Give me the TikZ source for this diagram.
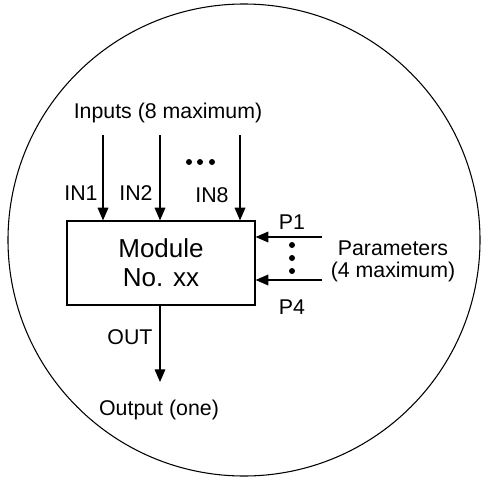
\documentclass[tikz,border=0pt]{standalone}
\usepackage{fontspec}
\setmainfont{Liberation Sans}
\usetikzlibrary{arrows.meta}
\begin{document}
\begin{tikzpicture}[x=0.75pt,y=-0.75pt,
  lbl/.style={inner sep=0pt,font=\fontsize{16}{19}\selectfont},
  big/.style={inner sep=0pt,font=\fontsize{19.5}{23}\selectfont},
  sig/.style={line width=0.9pt,-{Triangle[length=9.5pt,width=8pt]}},
  dot/.style={circle,fill=black,inner sep=0pt,minimum size=4.5pt}]
\useasboundingbox (0,0) rectangle (488,481);
% enclosing circle
\draw[line width=0.8pt] (244,240) circle [radius=236];
% module box
\node[draw,line width=0.9pt,minimum width=188*0.75pt,minimum height=84*0.75pt,inner sep=0pt] (mod) at (161,263) {};
\node[big] (t1) at (161,248) {Module};
\node[big] (t2) at (161,278) {No. xx};
% inputs
\node[lbl] (inp) at (168,113) {Inputs (8 maximum)};
\coordinate (i1) at (103,135);
\coordinate (i2) at (160,135);
\coordinate (i8) at (240,135);
\draw[sig] (i1) -- (i1 |- mod.north);
\draw[sig] (i2) -- (i2 |- mod.north);
\draw[sig] (i8) -- (i8 |- mod.north);
\node[lbl] (n1) at (81,193) {IN1};
\node[lbl] (n2) at (136,193) {IN2};
\node[lbl] (n8) at (212,195) {IN8};
\node[dot] (d1) at (189,162) {};
\node[dot] (d2) at (200,162) {};
\node[dot] (d3) at (212,162) {};
% parameters
\coordinate (p1) at (322,237);
\coordinate (p4) at (322,280);
\draw[sig] (p1) -- (p1 -| mod.east);
\draw[sig] (p4) -- (p4 -| mod.east);
\node[lbl] (l1) at (292,222) {P1};
\node[lbl] (l4) at (292,307) {P4};
\node[dot] (e1) at (292,245) {};
\node[dot] (e2) at (292,258) {};
\node[dot] (e3) at (292,271) {};
\node[lbl] (par) at (393,248) {Parameters};
\node[lbl] (pmax) at (393,272) {(4 maximum)};
% output
\coordinate (o) at (160,382);
\draw[sig] (o |- mod.south) -- (o);
\node[lbl] (lo) at (130,337) {OUT};
\node[lbl] (out) at (159,410) {Output (one)};
\end{tikzpicture}
\end{document}
